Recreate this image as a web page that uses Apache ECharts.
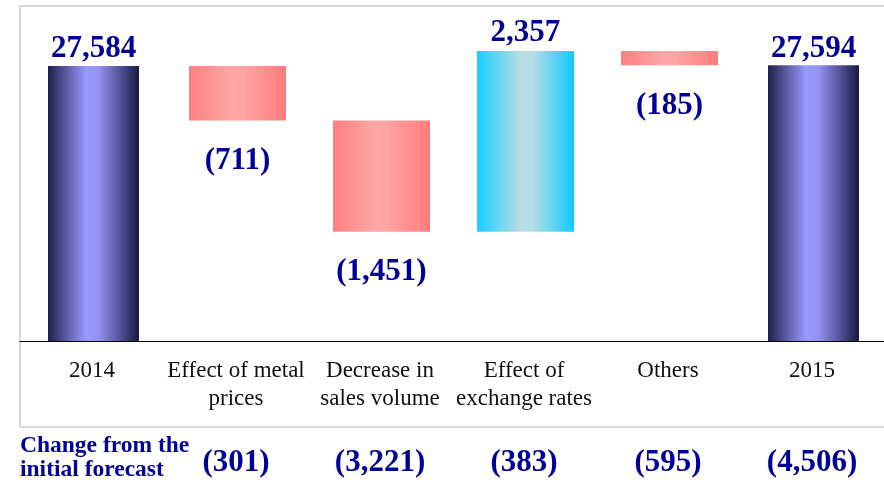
<!DOCTYPE html>
<html>
<head>
<meta charset="utf-8">
<script src="https://cdn.jsdelivr.net/npm/echarts@6/dist/echarts.min.js"></script>
<style>
  html, body { margin: 0; padding: 0; background: #fff; }
  #chart { width: 884px; height: 480px; }
</style>
</head>
<body>
<div id="chart"></div>
<script>
// Ordinary income bridge: 2014 result -> 2015 result
const categories = ['2014', 'Effect of metal\nprices', 'Decrease in\nsales volume', 'Effect of\nexchange rates', 'Others', '2015'];
const startTotal = 27584;
const endTotal = 27594;
const deltas = [-711, -1451, 2357, -185];          // middle four steps
const forecastChange = [null, -301, -3221, -383, -595, -4506];

const fmt = v => Math.abs(v).toLocaleString('en-US');
const fmtSigned = v => v < 0 ? '(' + fmt(v) + ')' : fmt(v);

// Build waterfall layers from the step values
const totals = [startTotal, '-', '-', '-', '-', endTotal];
const base = ['-'];
const down = ['-'];
const up = ['-'];
let running = startTotal;
deltas.forEach(d => {
  const next = running + d;
  base.push(Math.min(running, next));
  down.push(d < 0 ? -d : '-');
  up.push(d > 0 ? d : '-');
  running = next;
});
base.push('-'); down.push('-'); up.push('-');

const forecastLabels = forecastChange.map(v => v === null ? '' : fmtSigned(v));

const navy = new echarts.graphic.LinearGradient(0, 0, 1, 0, [
  { offset: 0, color: '#20204c' },
  { offset: 0.42, color: '#9a9aff' },
  { offset: 0.56, color: '#9292f2' },
  { offset: 1, color: '#181842' }
]);
const pink = new echarts.graphic.LinearGradient(0, 0, 1, 0, [
  { offset: 0, color: '#ff7f7f' },
  { offset: 0.45, color: '#ffa8a8' },
  { offset: 0.58, color: '#ffa2a2' },
  { offset: 1, color: '#ff7c7c' }
]);
const cyan = new echarts.graphic.LinearGradient(0, 0, 1, 0, [
  { offset: 0, color: '#18cfff' },
  { offset: 0.45, color: '#b8dde2' },
  { offset: 0.58, color: '#b4dde4' },
  { offset: 1, color: '#0ccbff' }
]);

const serif = '"Liberation Serif", "Times New Roman", serif';
const valueLabel = {
  show: true,
  fontFamily: serif,
  fontWeight: 'bold',
  fontSize: 31,
  color: '#000099'
};
const GAP = '-96.9%';

const chart = echarts.init(document.getElementById('chart'));
chart.setOption({
  animation: false,
  backgroundColor: '#fff',
  grid: { left: 20, right: 0, top: 34, bottom: 139, containLabel: false },
  xAxis: [
    {
      type: 'category',
      data: categories,
      axisLine: { lineStyle: { color: '#000', width: 1 } },
      axisTick: { inside: true, length: 5, lineStyle: { color: '#999' } },
      axisLabel: {
        interval: 0,
        margin: 16,
        fontFamily: serif,
        fontSize: 23,
        lineHeight: 28,
        color: '#111'
      }
    },
    {
      type: 'category',
      position: 'bottom',
      offset: 106,
      data: forecastLabels,
      axisLine: { show: false },
      axisTick: { show: false },
      axisLabel: {
        interval: 0,
        margin: 0,
        fontFamily: serif,
        fontWeight: 'bold',
        fontSize: 31,
        color: '#000099'
      }
    }
  ],
  yAxis: { type: 'value', min: 24000, max: 28000, show: false },
  graphic: [
    {
      type: 'rect',
      z: -1,
      shape: { x: 20, y: 6, width: 880, height: 421 },
      style: { fill: 'none', stroke: '#dadada', lineWidth: 2 }
    },
    {
      type: 'text',
      left: 20,
      top: 434,
      style: {
        text: 'Change from the\ninitial forecast',
        font: 'bold 23.5px ' + serif,
        lineHeight: 24,
        fill: '#000099'
      }
    }
  ],
  series: [
    {
      name: 'Base',
      type: 'bar',
      stack: 'flow',
      barWidth: 97,
      barGap: GAP,
      data: base,
      itemStyle: { color: 'transparent' },
      emphasis: { disabled: true }
    },
    {
      name: 'Decrease',
      type: 'bar',
      stack: 'flow',
      barWidth: 97,
      barGap: GAP,
      data: down,
      itemStyle: { color: pink },
      label: Object.assign({}, valueLabel, { position: 'bottom', distance: 25, formatter: p => '(' + fmt(p.value) + ')' })
    },
    {
      name: 'Increase',
      type: 'bar',
      stack: 'flow',
      barWidth: 97,
      barGap: GAP,
      data: up,
      itemStyle: { color: cyan },
      label: Object.assign({}, valueLabel, { position: 'top', distance: 2, formatter: p => fmt(p.value) })
    },
    {
      name: 'Total',
      type: 'bar',
      stack: 'total',
      barWidth: 91,
      barGap: GAP,
      data: totals,
      itemStyle: { color: navy },
      label: Object.assign({}, valueLabel, { position: 'top', distance: 1, formatter: p => fmt(p.value) })
    }
  ]
});
</script>
</body>
</html>
